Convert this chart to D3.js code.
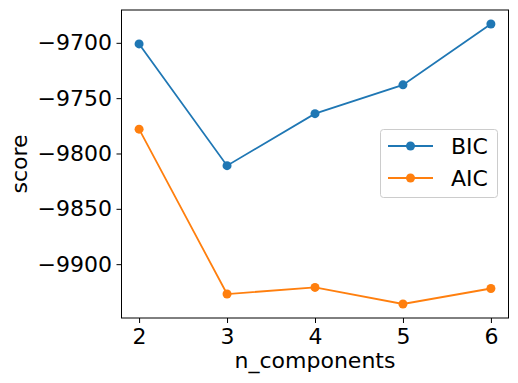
<!DOCTYPE html>
<html>
<head>
<meta charset="utf-8">
<script src="https://cdn.jsdelivr.net/npm/d3@7"></script>
<style>
  html, body { margin: 0; padding: 0; background: #fff; }
  text { font-family: "DejaVu Sans", sans-serif; }
</style>
</head>
<body>
<svg id="chart" width="518" height="383"></svg>
<script>
const nComponents = [2, 3, 4, 5, 6];
const bicValues = [-9701, -9811, -9764, -9738, -9683];
const aicValues = [-9778, -9927, -9921, -9936, -9922];
const yTicks = [-9700, -9750, -9800, -9850, -9900];
const xTicks = [2, 3, 4, 5, 6];
const seriesNames = ["BIC", "AIC"];
const seriesColors = ["#1f77b4", "#ff7f0e"];

(function () {
const svg = d3.select("#chart");
const mLeft = 121.5, mRight = 508.5, mTop = 10, mBottom = 318;

const allVals = bicValues.concat(aicValues);
const ymin = d3.min(allVals), ymax = d3.max(allVals);
const ypad = (ymax - ymin) * 0.05;
const x = d3.scaleLinear().domain([1.8, 6.2]).range([mLeft, mRight]);
const y = d3.scaleLinear().domain([ymin - ypad, ymax + ypad]).range([mBottom, mTop]);

const fs = 22;

const xAxis = svg.append("g").attr("transform", `translate(0,${mBottom})`)
  .call(d3.axisBottom(x).tickValues(xTicks).tickSize(5).tickPadding(4.5).tickFormat(d3.format("d")));
const yAxis = svg.append("g").attr("transform", `translate(${mLeft},0)`)
  .call(d3.axisLeft(y).tickValues(yTicks).tickSize(5).tickPadding(4.5).tickFormat(d => "\u2212" + Math.abs(d)));
[xAxis, yAxis].forEach(g => {
  g.select(".domain").remove();
  g.selectAll(".tick line").attr("stroke", "#000").attr("stroke-width", 1);
  g.selectAll(".tick text").attr("fill", "#000").style("font-size", fs + "px")
   .style("font-family", "'DejaVu Sans', sans-serif");
});
xAxis.selectAll(".tick text").attr("dy", "0.76em");

svg.append("rect").attr("x", mLeft).attr("y", mTop).attr("width", mRight - mLeft).attr("height", mBottom - mTop)
  .attr("fill", "none").attr("stroke", "#000").attr("stroke-width", 1);

const series = [bicValues, aicValues];
series.forEach((vals, i) => {
  const pts = nComponents.map((n, j) => [n, vals[j]]);
  svg.append("path").datum(pts)
    .attr("fill", "none").attr("stroke", seriesColors[i]).attr("stroke-width", 1.8)
    .attr("d", d3.line().x(d => x(d[0])).y(d => y(d[1])));
  svg.selectAll(null).data(pts).enter().append("circle")
    .attr("cx", d => x(d[0])).attr("cy", d => y(d[1])).attr("r", 4.5)
    .attr("fill", seriesColors[i]);
});

svg.append("text").attr("x", (mLeft + mRight) / 2).attr("y", 368).attr("text-anchor", "middle")
  .style("font-size", fs + "px").text("n_components");
svg.append("text").attr("transform", `translate(27,${(mTop + mBottom) / 2}) rotate(-90)`)
  .attr("text-anchor", "middle").style("font-size", fs + "px").text("score");

const lg = svg.append("g");
lg.append("rect").attr("x", 380.5).attr("y", 129.5).attr("width", 117).attr("height", 68).attr("rx", 3)
  .attr("fill", "#fff").attr("fill-opacity", 0.8).attr("stroke", "#ccc").attr("stroke-width", 1);
seriesNames.forEach((name, i) => {
  const cy = 146 + i * 32;
  lg.append("line").attr("x1", 388).attr("x2", 433).attr("y1", cy).attr("y2", cy)
    .attr("stroke", seriesColors[i]).attr("stroke-width", 1.8);
  lg.append("circle").attr("cx", 410.5).attr("cy", cy).attr("r", 4.5).attr("fill", seriesColors[i]);
  lg.append("text").attr("x", 451).attr("y", cy).attr("dy", "0.36em")
    .style("font-size", fs + "px").text(name);
});
})();
</script>
</body>
</html>
